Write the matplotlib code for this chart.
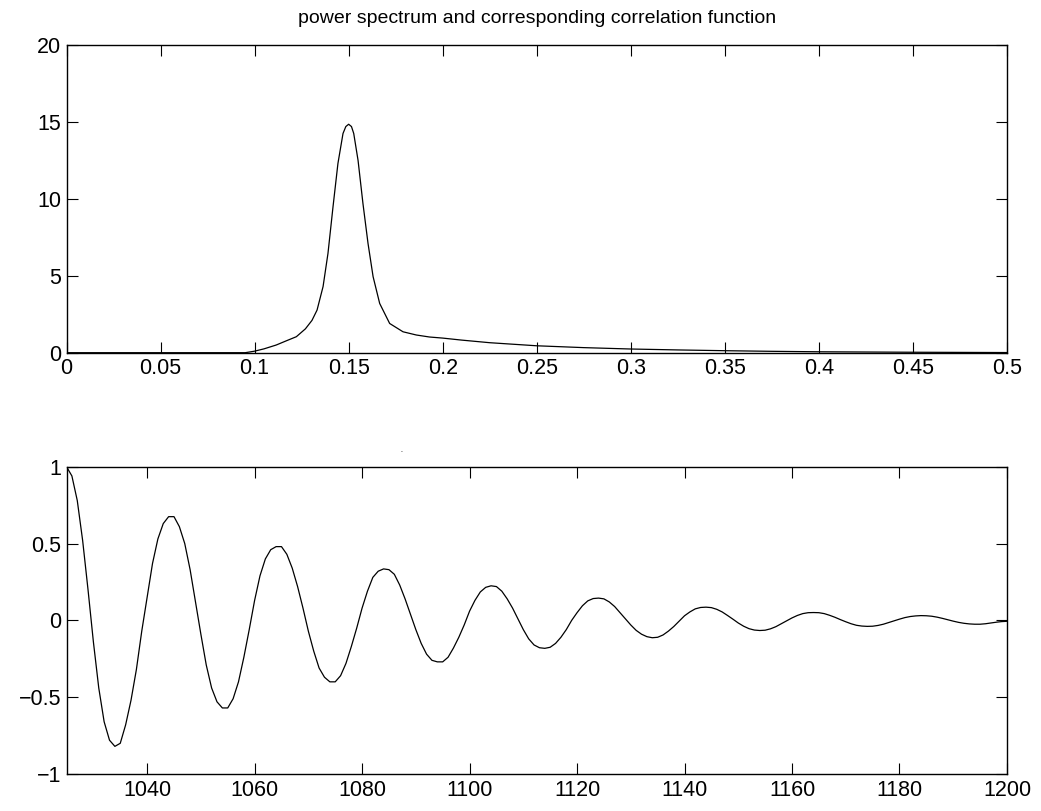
import matplotlib
matplotlib.use("Agg")
import matplotlib.pyplot as plt

plt.rcParams['font.family'] = ['Liberation Sans', 'DejaVu Sans']

# ---- power spectrum (top) ----
freq = [0.0, 0.05, 0.09, 0.095, 0.1, 0.105, 0.1115, 0.117, 0.1222, 0.127, 0.1305,
        0.1332, 0.1364, 0.139, 0.1417, 0.1443, 0.147, 0.1485, 0.15, 0.1515, 0.1527,
        0.155, 0.1576, 0.1603, 0.163, 0.1665, 0.1718, 0.1789, 0.186, 0.193, 0.2,
        0.21, 0.225, 0.25, 0.275, 0.3, 0.325, 0.35, 0.375, 0.4, 0.45, 0.5]
power = [0.0, 0.0, 0.0, 0.0, 0.1, 0.25, 0.5, 0.78, 1.04, 1.55, 2.1,
         2.77, 4.3, 6.45, 9.5, 12.3, 14.25, 14.7, 14.85, 14.7, 14.25,
         12.5, 9.7, 7.1, 4.94, 3.2, 1.9, 1.36, 1.15, 1.02, 0.95,
         0.82, 0.65, 0.45, 0.33, 0.24, 0.18, 0.13, 0.09, 0.06, 0.03, 0.01]

freq_ticks = [0, 0.05, 0.1, 0.15, 0.2, 0.25, 0.3, 0.35, 0.4, 0.45, 0.5]
freq_labels = ['0', '0.05', '0.1', '0.15', '0.2', '0.25', '0.3', '0.35', '0.4', '0.45', '0.5']
power_ticks = [0, 5, 10, 15, 20]

# ---- correlation function (bottom) ----
lag_start = 1025
corr = [1.00, 0.94, 0.78, 0.52, 0.20, -0.14, -0.44, -0.66, -0.78, -0.82,
        -0.80, -0.68, -0.52, -0.32, -0.07, 0.15, 0.37, 0.53, 0.63, 0.675,
        0.675, 0.61, 0.50, 0.33, 0.12, -0.09, -0.29, -0.44, -0.53, -0.57,
        -0.57, -0.51, -0.40, -0.24, -0.06, 0.13, 0.29, 0.40, 0.46, 0.48,
        0.48, 0.43, 0.34, 0.22, 0.08, -0.07, -0.20, -0.31, -0.37, -0.40,
        -0.40, -0.36, -0.28, -0.17, -0.05, 0.08, 0.19, 0.28, 0.32, 0.335,
        0.33, 0.30, 0.23, 0.14, 0.04, -0.06, -0.15, -0.22, -0.26, -0.27,
        -0.27, -0.24, -0.18, -0.11, -0.03, 0.06, 0.13, 0.185, 0.215, 0.225,
        0.22, 0.19, 0.14, 0.08, 0.01, -0.06, -0.12, -0.16, -0.178, -0.182,
        -0.175, -0.15, -0.11, -0.06, 0.00, 0.05, 0.095, 0.127, 0.142, 0.145,
        0.14, 0.12, 0.09, 0.05, 0.01, -0.03, -0.065, -0.09, -0.106, -0.113,
        -0.11, -0.095, -0.07, -0.04, -0.005, 0.03, 0.055, 0.075, 0.084, 0.086,
        0.083, 0.072, 0.055, 0.032, 0.008, -0.017, -0.038, -0.054, -0.063, -0.066,
        -0.064, -0.055, -0.041, -0.022, -0.003, 0.016, 0.032, 0.044, 0.05, 0.051,
        0.05, 0.044, 0.033, 0.02, 0.005, -0.009, -0.022, -0.032, -0.037, -0.039,
        -0.038, -0.033, -0.025, -0.014, -0.003, 0.008, 0.018, 0.025, 0.029, 0.031,
        0.03, 0.027, 0.021, 0.013, 0.004, -0.005, -0.013, -0.019, -0.023, -0.025,
        -0.025, -0.022, -0.017, -0.012, -0.008, -0.006]
lags = list(range(lag_start, lag_start + len(corr)))
lag_ticks = [1040, 1060, 1080, 1100, 1120, 1140, 1160, 1180, 1200]
corr_ticks = [-1, -0.5, 0, 0.5, 1]
corr_labels = ['\u22121', '\u22120.5', '0', '0.5', '1']

title = 'power spectrum and corresponding correlation function'

fig = plt.figure(figsize=(10.41, 8.11), dpi=100)
ax1 = fig.add_axes([0.0639, 0.5651, 0.9034, 0.3794])
ax2 = fig.add_axes([0.0639, 0.0456, 0.9034, 0.3789])

fs = 15.5
for ax in (ax1, ax2):
    ax.tick_params(direction='in', length=8, width=0.8, top=True, right=True,
                   labelsize=fs, pad=4, colors='black')
    for s in ax.spines.values():
        s.set_linewidth(1.0)
        s.set_color('black')

ax1.plot(freq, power, color='black', lw=0.9)
ax1.set_xlim(0, 0.5)
ax1.set_ylim(0, 20)
ax1.set_xticks(freq_ticks)
ax1.set_xticklabels(freq_labels)
ax1.set_yticks(power_ticks)
ax1.set_title(title, fontsize=14, pad=16)

ax2.plot(lags, corr, color='black', lw=0.9)
ax2.set_xlim(1025, 1200)
ax2.set_ylim(-1, 1)
ax2.set_xticks(lag_ticks)
ax2.set_yticks(corr_ticks)
ax2.set_yticklabels(corr_labels)

fig.text(402 / 1041, 1 - 452 / 811, '-', fontsize=4, ha='center', va='center')

fig.savefig('out.png', dpi=100)
